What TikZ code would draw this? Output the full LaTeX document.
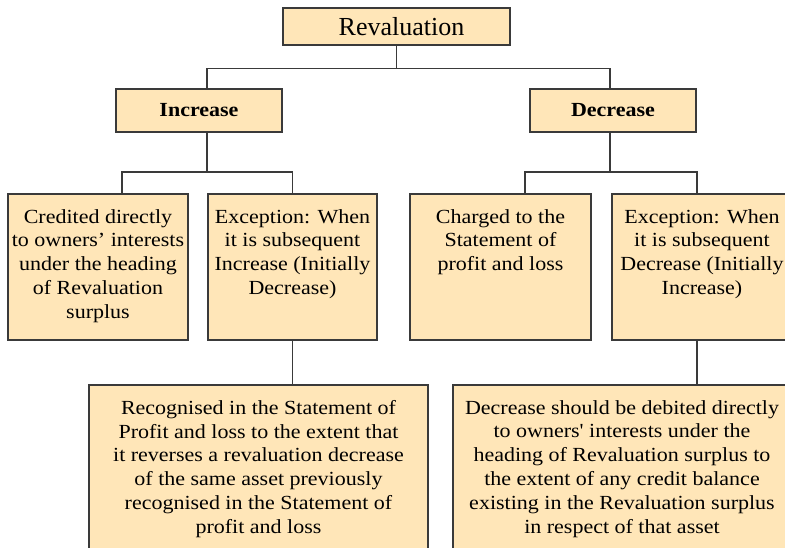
\documentclass[tikz,border=0pt]{standalone}
\usepackage{fontspec}
\setmainfont{Liberation Serif}[Ligatures=TeXOff]
\newfontfamily\boxfont{Liberation Serif}[FakeStretch=1.1, Ligatures=TeXOff]
\begin{document}
\definecolor{boxfill}{HTML}{FFE6B8}
\definecolor{edge}{HTML}{3A3A3A}
\begin{tikzpicture}[x=1pt,y=-1pt,
  box/.style={draw=edge, line width=1.1pt, fill=boxfill, rectangle,
    inner sep=0pt, outer sep=0pt},
  conn/.style={draw=edge, line width=1.2pt},
  head/.style={font=\boxfont\bfseries\fontsize{20}{23}\selectfont},
  body/.style={align=center, inner sep=0pt, anchor=north,
    font=\boxfont\fontsize{20}{23.8}\selectfont}]
\useasboundingbox (0,0) rectangle (785,548);
\clip (0,0) rectangle (785,548);

% top level
\node[box, minimum width=227pt, minimum height=37pt,
  font=\fontsize{26}{30}\selectfont] (rev) at (396.5,26.5) {\hspace{10pt}Revaluation};

% second level
\node[box, head, minimum width=166pt, minimum height=43pt] (inc) at (199,110.5) {Increase};
\node[box, head, minimum width=166pt, minimum height=43pt] (dec) at (613,110.5) {Decrease};

% third level boxes
\node[box, minimum width=180pt, minimum height=146pt] (b1) at (98,267) {};
\node[box, minimum width=169pt, minimum height=146pt] (b2) at (292.5,267) {};
\node[box, minimum width=181pt, minimum height=146pt] (b3) at (500.5,267) {};
\node[box, minimum width=180pt, minimum height=146pt] (b4) at (702,267) {};

% fourth level boxes
\node[box, minimum width=339pt, minimum height=180pt] (bl) at (258.5,475) {};
\node[box, minimum width=338pt, minimum height=180pt] (br) at (622,475) {};

% box texts
\node[body] (t1) at ([yshift=-15]b1.north) {Credited directly\\to owners’ interests\\under the heading\\of Revaluation\\surplus};
\node[body] (t2) at ([yshift=-15]b2.north) {Exception: When\\it is subsequent\\Increase (Initially\\Decrease)};
\node[body] (t3) at ([yshift=-15]b3.north) {Charged to the\\Statement of\\profit and loss};
\node[body] (t4) at ([yshift=-15]b4.north) {Exception: When\\it is subsequent\\Decrease (Initially\\Increase)};
\node[body] (tl) at ([yshift=-15]bl.north) {Recognised in the Statement of\\Profit and loss to the extent that\\it reverses a revaluation decrease\\of the same asset previously\\recognised in the Statement of\\profit and loss};
\node[body] (tr) at ([yshift=-15]br.north) {Decrease should be debited directly\\to owners' interests under the\\heading of Revaluation surplus to\\the extent of any credit balance\\existing in the Revaluation surplus\\in respect of that asset};

% connectors
\draw[conn] (rev.south) -- ++(0,23) coordinate (j0);
\draw[conn] ([xshift=8]inc.north) -- ++(0,-20.5) -| ([xshift=-3]dec.north);

\draw[conn] ([xshift=8]inc.south) -- ++(0,40) coordinate (ji);
\draw[conn] ([xshift=24]b1.north) -- ++(0,-22) -| (b2.north);

\draw[conn] ([xshift=-3]dec.south) -- ++(0,40) coordinate (jd);
\draw[conn] ([xshift=24.5]b3.north) -- ++(0,-22) -| ([xshift=-5]b4.north);

\draw[conn] (b2.south) -- (b2.south |- bl.north);
\draw[conn] ([xshift=-5]b4.south) -- ([xshift=-5]b4.south |- br.north);
\end{tikzpicture}
\end{document}
